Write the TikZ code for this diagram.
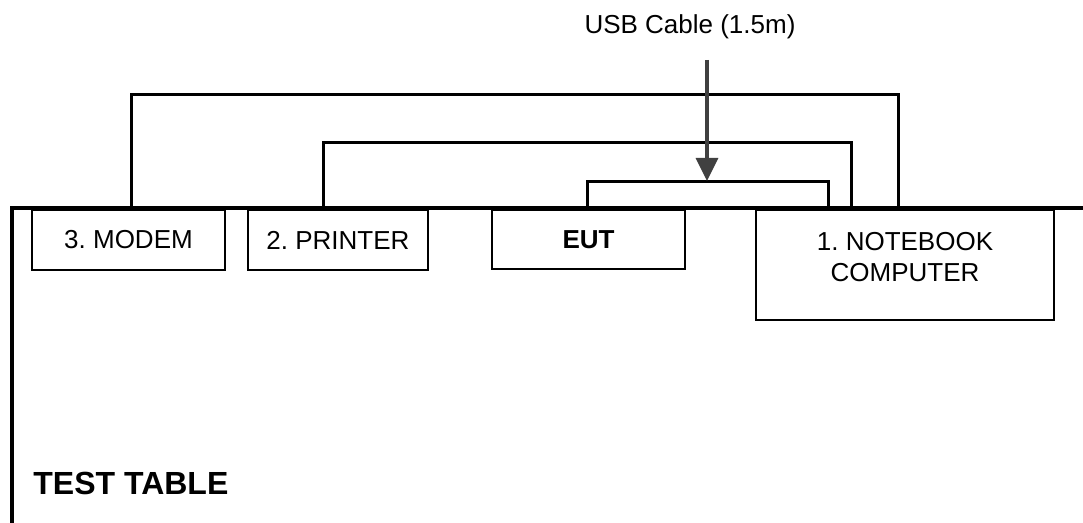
\documentclass[tikz,border=0pt]{standalone}
\usepackage{fontspec}
\setmainfont{Liberation Sans}
\usetikzlibrary{arrows.meta,calc}
\frenchspacing
\begin{document}
\begin{tikzpicture}[x=0.5pt,y=-0.5pt,
  device/.style={draw,line width=1pt,inner sep=0pt,anchor=north west,font=\fontsize{13}{15.5}\selectfont,align=center},
  cable/.style={draw,line width=1.5pt},
  tableline/.style={draw,line width=2pt},
  lbl/.style={font=\fontsize{13}{15.5}\selectfont,inner sep=0pt,align=center}]
\useasboundingbox (0,0) rectangle (1083,523);
% devices
\node[device,minimum width=96.5pt,minimum height=30pt] (modem) at (31,209) {3. MODEM};
\node[device,minimum width=90pt,minimum height=30pt] (printer) at (247,209) {2. PRINTER};
\node[device,minimum width=96.5pt,minimum height=29.5pt,font=\fontsize{13}{15.5}\selectfont\bfseries] (eut) at (491,209) {EUT};
\node[device,minimum width=149pt,minimum height=55pt] (notebook) at (755,209) {};
\node[lbl] (nbtext) at (905,257.5) {1. NOTEBOOK\\COMPUTER};
% table
\coordinate (tl) at (10,208);
\coordinate (tr) at (1083,208);
\coordinate (tc) at (12,208);
\coordinate (tb) at (12,523);
\draw[tableline] (tl) -- (tr);
\draw[tableline] (tc) -- (tb);
\node[font=\fontsize{16}{19}\selectfont\bfseries,anchor=west,inner sep=0pt] (table) at (33,483) {TEST TABLE};
% cables
\draw[cable] ([xshift=50pt]modem.north west) -- ++(0,-114) -| ([xshift=71.5pt]notebook.north west);
\draw[cable] ([xshift=38pt]printer.north west) -- ++(0,-66) -| ([xshift=48pt]notebook.north west);
\draw[cable] ([xshift=48pt]eut.north west) -- ++(0,-27) coordinate (inner) -| ([xshift=36.5pt]notebook.north west);
% USB label and arrow
\node[lbl] (usb) at (690,27) {USB Cable (1.5m)};
\coordinate (arrstart) at (707,60);
\coordinate (arrend) at (707,181);
\draw[line width=1.6pt,color=black!75,-{Triangle[width=11pt,length=11.5pt]}] (arrstart) -- (arrend);
\end{tikzpicture}
\end{document}
